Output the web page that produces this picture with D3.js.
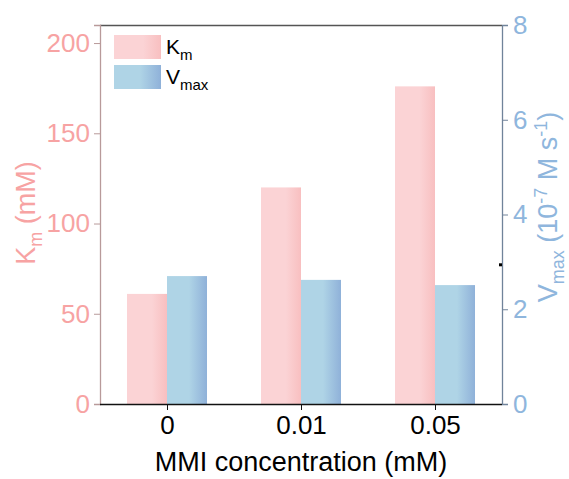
<!DOCTYPE html>
<html>
  <head>
    <meta charset="utf-8">
    <title>Km and Vmax</title>
    <style>
      body { margin: 0; background: #fff; }
      text { font-family: "Liberation Sans", Arial, sans-serif; }
    </style>
  </head>
  <body>
    <div class="chart"></div>

    <script src="https://d3js.org/d3.v7.min.js"></script>
    <script>
      // data
      const categories = ["0", "0.01", "0.05"];
      const kmValues = [61, 120, 176];
      const vmaxValues = [2.70, 2.62, 2.51];
      const kmTicks = [0, 50, 100, 150, 200];
      const vmaxTicks = [0, 2, 4, 6, 8];

      const W = 569, H = 479;
      const margin = { top: 25, right: 67, bottom: 75, left: 100 };
      const width = W - margin.left - margin.right;
      const height = H - margin.top - margin.bottom;

      const pink = "#f7a3a3";
      const blue = "#8fb6dd";

      const svg = d3.select(".chart").append("svg")
        .attr("width", W)
        .attr("height", H);

      const defs = svg.append("defs");
      const kmGrad = defs.append("linearGradient").attr("id", "kmGrad");
      kmGrad.append("stop").attr("offset", "0%").attr("stop-color", "#fbd3d5");
      kmGrad.append("stop").attr("offset", "62%").attr("stop-color", "#fbd3d5");
      kmGrad.append("stop").attr("offset", "100%").attr("stop-color", "#f8bfc0");
      const vGrad = defs.append("linearGradient").attr("id", "vGrad");
      vGrad.append("stop").attr("offset", "0%").attr("stop-color", "#afd4e6");
      vGrad.append("stop").attr("offset", "55%").attr("stop-color", "#afd4e6");
      vGrad.append("stop").attr("offset", "100%").attr("stop-color", "#8fb1d9");

      const g = svg.append("g")
        .attr("transform", `translate(${margin.left},${margin.top})`);

      const x = d3.scalePoint().domain(categories).range([0, width]).padding(0.5);
      const yKm = d3.scaleLinear().domain([0, 210]).range([height, 0]);
      const yV = d3.scaleLinear().domain([0, 8]).range([height, 0]);
      const barW = 40;

      // bars
      g.selectAll(".km").data(kmValues).enter().append("rect")
        .attr("class", "km")
        .attr("x", (d, i) => x(categories[i]) - barW)
        .attr("y", d => yKm(d))
        .attr("width", barW)
        .attr("height", d => height - yKm(d))
        .attr("fill", "url(#kmGrad)");

      g.selectAll(".vm").data(vmaxValues).enter().append("rect")
        .attr("class", "vm")
        .attr("x", (d, i) => x(categories[i]))
        .attr("y", d => yV(d))
        .attr("width", barW)
        .attr("height", d => height - yV(d))
        .attr("fill", "url(#vGrad)");

      // top frame
      g.append("line")
        .attr("x1", 0).attr("x2", width).attr("y1", 0.5).attr("y2", 0.5)
        .attr("stroke", "#555").attr("stroke-width", 1.3);

      // left axis
      const leftAxis = g.append("g")
        .call(d3.axisLeft(yKm).tickValues(kmTicks).tickSize(6).tickPadding(4));
      leftAxis.select(".domain").attr("stroke", "#b89a9a").attr("stroke-width", 1.3);
      leftAxis.selectAll(".tick line").attr("stroke", "#b89a9a");
      leftAxis.selectAll(".tick text").attr("fill", pink).style("font-size", "26px")
        .attr("font-family", "Liberation Sans, Arial, sans-serif");

      // right axis
      const rightAxis = g.append("g")
        .attr("transform", `translate(${width},0)`)
        .call(d3.axisRight(yV).tickValues(vmaxTicks).tickSize(6).tickPadding(5));
      rightAxis.select(".domain").attr("stroke", "#70839a").attr("stroke-width", 1.3);
      rightAxis.selectAll(".tick line").attr("stroke", "#70839a");
      rightAxis.selectAll(".tick text").attr("fill", blue).style("font-size", "26px")
        .attr("font-family", "Liberation Sans, Arial, sans-serif");

      // bottom axis
      const bottomAxis = g.append("g")
        .attr("transform", `translate(0,${height})`)
        .call(d3.axisBottom(x).tickSize(6).tickPadding(6).tickSizeOuter(0));
      bottomAxis.select(".domain").attr("stroke", "#111").attr("stroke-width", 1.3)
        .attr("d", `M0,0.5H${width}`);
      bottomAxis.selectAll(".tick line").attr("stroke", "#111");
      bottomAxis.selectAll(".tick text").attr("fill", "#000").style("font-size", "26px")
        .attr("font-family", "Liberation Sans, Arial, sans-serif");

      // small stray mark near right axis
      g.append("rect").attr("x", width - 3).attr("y", yV(2.97)).attr("width", 3).attr("height", 3).attr("fill", "#000");

      // axis titles
      svg.append("text")
        .attr("x", margin.left + width / 2).attr("y", 471)
        .attr("text-anchor", "middle").attr("fill", "#000")
        .style("font-size", "27px")
        .text("MMI concentration (mM)");

      const kmTitle = svg.append("text")
        .attr("transform", "translate(35,213) rotate(-90)")
        .attr("text-anchor", "middle").attr("fill", pink)
        .style("font-size", "27px");
      kmTitle.append("tspan").text("K");
      kmTitle.append("tspan").attr("dy", 7).style("font-size", "18px").text("m");
      kmTitle.append("tspan").attr("dy", -7).text(" (mM)");

      const vTitle = svg.append("text")
        .attr("transform", "translate(557,207) rotate(-90)")
        .attr("text-anchor", "middle").attr("fill", blue)
        .style("font-size", "27px");
      vTitle.append("tspan").text("V");
      vTitle.append("tspan").attr("dy", 7).style("font-size", "18px").text("max");
      vTitle.append("tspan").attr("dy", -7).text(" (10");
      vTitle.append("tspan").attr("dy", -10).style("font-size", "18px").text("-7");
      vTitle.append("tspan").attr("dy", 10).text(" M s");
      vTitle.append("tspan").attr("dy", -10).style("font-size", "18px").text("-1");
      vTitle.append("tspan").attr("dy", 10).text(")");

      // legend
      const legend = svg.append("g").attr("transform", "translate(114,35)");
      const items = [
        { main: "K", sub: "m", fill: "url(#kmGrad)" },
        { main: "V", sub: "max", fill: "url(#vGrad)" }
      ];
      items.forEach((it, i) => {
        const row = legend.append("g").attr("transform", `translate(0,${i * 30})`);
        row.append("rect").attr("width", 47).attr("height", 24).attr("fill", it.fill);
        const t = row.append("text").attr("x", 52).attr("y", 19)
          .attr("fill", "#000").style("font-size", "21px");
        t.append("tspan").text(it.main);
        t.append("tspan").attr("dy", 6).style("font-size", "15px").text(it.sub);
      });
    </script>
  </body>
</html>
